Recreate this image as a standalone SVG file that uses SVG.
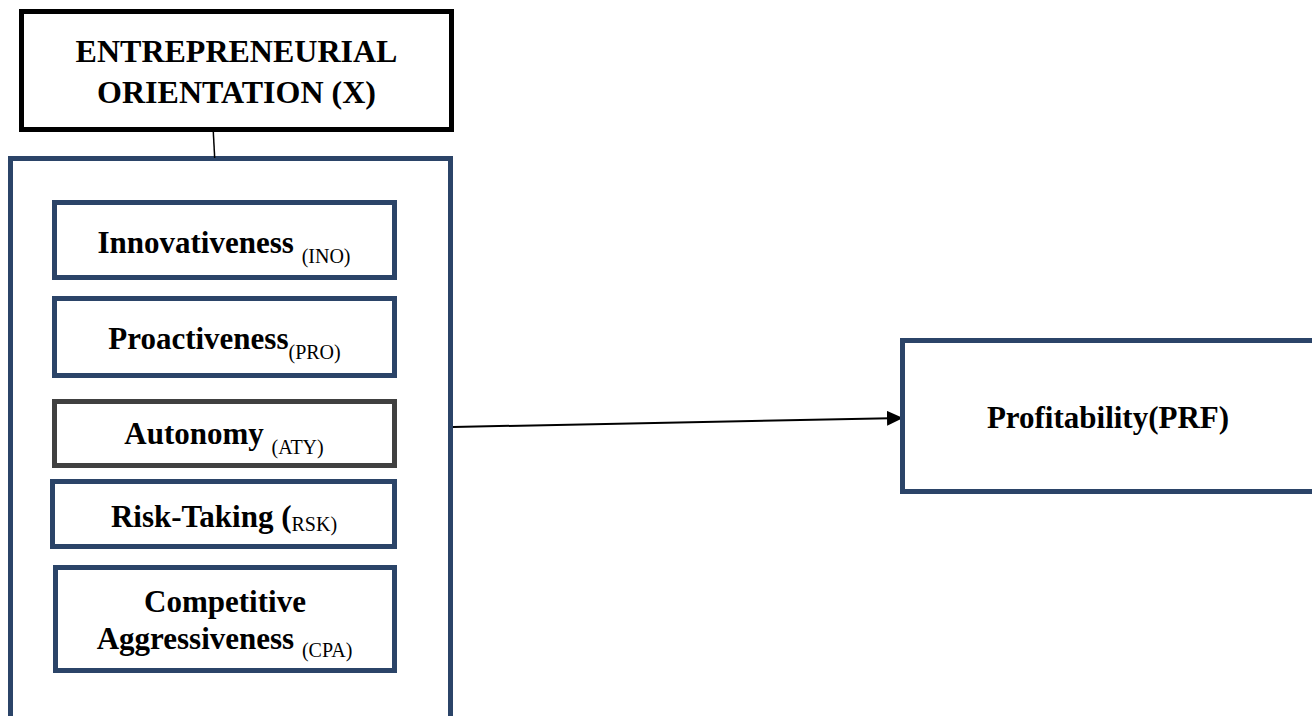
<svg xmlns="http://www.w3.org/2000/svg" width="1312" height="716" viewBox="0 0 1312 716">
<defs>
<style>
.bx{fill:#fff;stroke:#2B4468;stroke-width:5}
.gy{fill:#fff;stroke:#404040;stroke-width:5}
.bk{fill:#fff;stroke:#000;stroke-width:5}
.t{font-family:"Liberation Serif","Times New Roman",serif;font-weight:bold;font-size:31px;fill:#000;text-anchor:middle}
.s{font-weight:normal;font-size:20px}
.ln{stroke:#000;fill:none}
</style>
<marker id="ah" markerWidth="16" markerHeight="15" refX="16" refY="7.5" orient="auto" markerUnits="userSpaceOnUse">
<path d="M0,0 L16,7.5 L0,15 Z" fill="#000"/>
</marker>
</defs>
<g id="outer">
<rect class="bx" x="10.5" y="158.5" width="440" height="580"/>
</g>
<g id="connectors">
<line class="ln" x1="213.3" y1="132" x2="214.7" y2="158" stroke-width="1.5"/>
<line class="ln" x1="453" y1="427" x2="903" y2="418" stroke-width="2" marker-end="url(#ah)"/>
</g>
<g id="eo">
<rect class="bk" x="21.5" y="11.5" width="430" height="118"/>
<text class="t" x="236.5" y="62" style="font-size:32px">ENTREPRENEURIAL</text>
<text class="t" x="236.5" y="103" style="font-size:32px">ORIENTATION (X)</text>
</g>
<g id="ino">
<rect class="bx" x="54.5" y="202.5" width="340" height="75"/>
<text class="t" x="224" y="253">Innovativeness <tspan class="s" dy="10">(INO)</tspan></text>
</g>
<g id="pro">
<rect class="bx" x="54.5" y="298.5" width="340" height="77"/>
<text class="t" x="224.5" y="349">Proactiveness<tspan class="s" dy="10">(PRO)</tspan></text>
</g>
<g id="aty">
<rect class="gy" x="54.5" y="401.5" width="340" height="64"/>
<text class="t" x="224" y="444">Autonomy <tspan class="s" dy="10">(ATY)</tspan></text>
</g>
<g id="rsk">
<rect class="bx" x="52.5" y="481.5" width="342" height="65"/>
<text class="t" x="224" y="527">Risk-Taking (<tspan class="s" dy="4">RSK)</tspan></text>
</g>
<g id="cpa">
<rect class="bx" x="55.5" y="567.5" width="339" height="103"/>
<text class="t" x="225" y="612">Competitive</text>
<text class="t" x="224.5" y="649">Aggressiveness <tspan class="s" dy="8">(CPA)</tspan></text>
</g>
<g id="prf">
<rect class="bx" x="902.5" y="340.5" width="440" height="151"/>
<text class="t" x="1108" y="428">Profitability(PRF)</text>
</g>
</svg>
